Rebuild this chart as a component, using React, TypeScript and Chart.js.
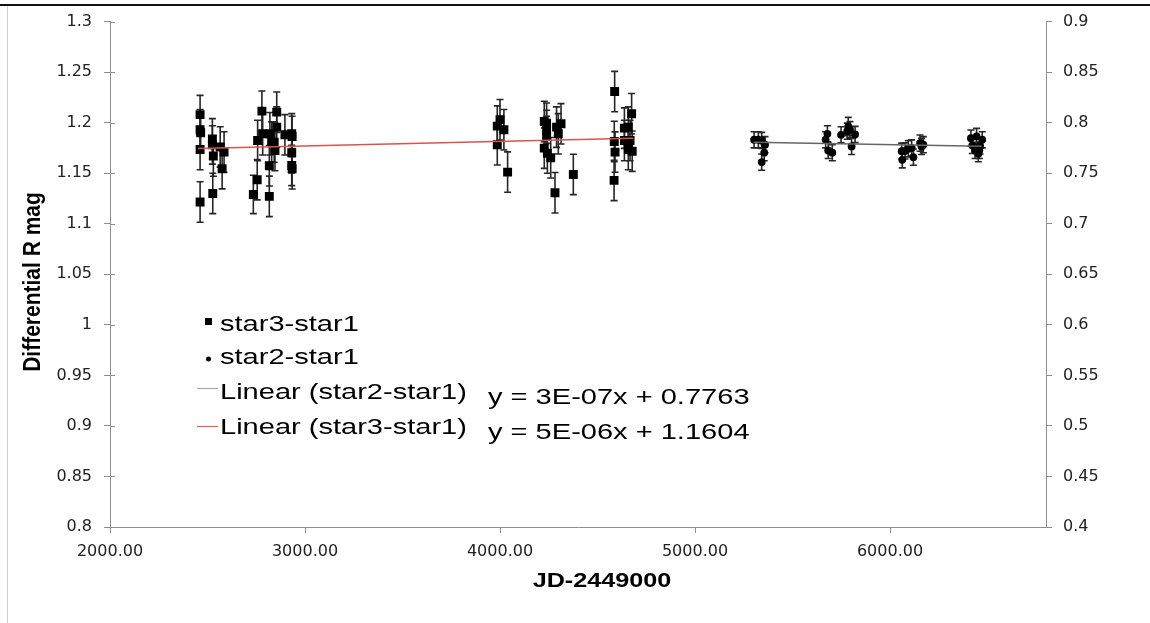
import React, { useEffect, useRef } from "react";
import { Chart, registerables } from "chart.js";

Chart.register(...registerables);

// ---- data ----
const star3Jd = [
  2462, 2462, 2465, 2462, 2462, 2525, 2525, 2530, 2527, 2565, 2585, 2575,
  2735, 2755, 2757, 2779, 2783, 2817, 2817, 2820, 2829, 2842, 2846, 2855, 2855,
  2897, 2932, 2934, 2932, 2932, 2934,
  3986, 4000, 4020, 3986, 4039,
  4227, 4239, 4239, 4239, 4227, 4243, 4260, 4290, 4299, 4313, 4282, 4376,
  4588, 4586, 4590, 4585, 4638, 4638, 4658, 4658, 4675, 4678, 4667,
];
const star3Mag = [
  1.208, 1.193, 1.19, 1.1735, 1.1215, 1.184, 1.178, 1.167, 1.13, 1.176, 1.171, 1.1545,
  1.129, 1.1436, 1.1824, 1.2114, 1.189, 1.1271, 1.1574, 1.189, 1.1808, 1.1808, 1.1725, 1.2104, 1.1956,
  1.188, 1.189, 1.1864, 1.1702, 1.1577, 1.1544,
  1.1966, 1.2029, 1.193, 1.1782, 1.1511,
  1.2012, 1.1995, 1.1923, 1.1864, 1.1748, 1.1699, 1.1653, 1.1956, 1.189, 1.1989, 1.1307, 1.1488,
  1.2308, 1.1814, 1.1709, 1.1429, 1.1946, 1.1824, 1.1956, 1.1735, 1.2088, 1.1718, 1.1824,
];
const star3Err = [
  0.019, 0.02, 0.02, 0.02, 0.02, 0.02, 0.019, 0.02, 0.02, 0.02, 0.02, 0.02,
  0.019, 0.02, 0.02, 0.02, 0.021, 0.02, 0.02, 0.021, 0.02, 0.02, 0.02, 0.02, 0.02,
  0.02, 0.02, 0.02, 0.02, 0.02, 0.02,
  0.02, 0.02, 0.02, 0.02, 0.02,
  0.02, 0.02, 0.02, 0.02, 0.02, 0.02, 0.02, 0.02, 0.02, 0.02, 0.02, 0.02,
  0.02, 0.02, 0.02, 0.02, 0.02, 0.02, 0.02, 0.02, 0.02, 0.02, 0.02,
];
const star2Jd = [
  5303, 5325, 5342, 5359, 5355, 5342,
  5679, 5670, 5683, 5704,
  5749, 5786, 5781, 5795, 5821, 5803,
  6060, 6063, 6077, 6094, 6111, 6120, 6154, 6171, 6162,
  6415, 6444, 6473, 6422, 6436, 6458, 6453, 6462,
];
const star2Mag = [
  0.7831, 0.7831, 0.7824, 0.7782, 0.7703, 0.761,
  0.789, 0.7831, 0.7725, 0.7703,
  0.788, 0.7962, 0.7916, 0.793, 0.7883, 0.7765,
  0.7718, 0.7633, 0.772, 0.7742, 0.775, 0.7659, 0.7798, 0.7782, 0.7765,
  0.7847, 0.7864, 0.7831, 0.7775, 0.7725, 0.7725, 0.7693, 0.777,
];
const star2Err = [
  0.008, 0.008, 0.008, 0.008, 0.008, 0.008,
  0.008, 0.008, 0.008, 0.008,
  0.008, 0.009, 0.008, 0.008, 0.008, 0.008,
  0.008, 0.008, 0.008, 0.008, 0.008, 0.008, 0.008, 0.008, 0.008,
  0.008, 0.008, 0.008, 0.008, 0.008, 0.008, 0.008, 0.008,
];
const trend3Jd = [2451, 4682];
const trend3Mag = [1.1745, 1.1845];
const trend2Jd = [5300, 6470];
const trend2Mag = [0.7807, 0.7768];

const xTicks = [2000, 3000, 4000, 5000, 6000];
const yLeftTicks = [0.8, 0.85, 0.9, 0.95, 1, 1.05, 1.1, 1.15, 1.2, 1.25, 1.3];
const yRightTicks = [0.4, 0.45, 0.5, 0.55, 0.6, 0.65, 0.7, 0.75, 0.8, 0.85, 0.9];

const legendLabels = ["star3-star1", "star2-star1", "Linear (star2-star1)", "Linear (star3-star1)"];
const equations = ["y = 3E-07x + 0.7763", "y = 5E-06x + 1.1604"];
const xTitle = "JD-2449000";
const yTitle = "Differential R mag";

function stretchText(ctx: CanvasRenderingContext2D, text: string, x: number, y: number, sx: number) {
  ctx.save();
  ctx.translate(x, y);
  ctx.scale(sx, 1);
  ctx.fillText(text, 0, 0);
  ctx.restore();
}

const framePlugin = {
  id: "frame",
  beforeDraw(chart: any) {
    const ctx = chart.ctx;
    ctx.save();
    ctx.fillStyle = "#ffffff";
    ctx.fillRect(0, 0, chart.width, chart.height);
    ctx.fillStyle = "#111111";
    ctx.fillRect(0, 4, chart.width, 2);
    ctx.fillStyle = "#cfcfcf";
    ctx.fillRect(7, 6, 1, chart.height - 6);
    ctx.restore();
  },
};

const errorBarPlugin = {
  id: "errorBars",
  beforeDatasetsDraw(chart: any) {
    const ctx = chart.ctx;
    const xs = chart.scales.x;
    const groups = [
      { jd: star3Jd, mag: star3Mag, err: star3Err, axis: "y" },
      { jd: star2Jd, mag: star2Mag, err: star2Err, axis: "y2" },
    ];
    ctx.save();
    ctx.strokeStyle = "#262626";
    ctx.lineWidth = 1.6;
    for (const g of groups) {
      const ys = chart.scales[g.axis];
      for (let i = 0; i < g.jd.length; i++) {
        const px = xs.getPixelForValue(g.jd[i]);
        const top = ys.getPixelForValue(g.mag[i] + g.err[i]);
        const bot = ys.getPixelForValue(g.mag[i] - g.err[i]);
        ctx.beginPath();
        ctx.moveTo(px, top);
        ctx.lineTo(px, bot);
        ctx.moveTo(px - 3.5, top);
        ctx.lineTo(px + 3.5, top);
        ctx.moveTo(px - 3.5, bot);
        ctx.lineTo(px + 3.5, bot);
        ctx.stroke();
      }
    }
    ctx.restore();
  },
};

const annotationPlugin = {
  id: "annotations",
  afterDraw(chart: any) {
    const ctx = chart.ctx;
    const area = chart.chartArea;
    ctx.save();
    // inner half of the left axis tick marks
    ctx.strokeStyle = "#8f8f8f";
    ctx.lineWidth = 1;
    const ys = chart.scales.y;
    for (const v of yLeftTicks) {
      const py = Math.round(ys.getPixelForValue(v)) + 0.5;
      ctx.beginPath();
      ctx.moveTo(area.left, py);
      ctx.lineTo(area.left + 5, py);
      ctx.stroke();
    }
    // legend
    ctx.fillStyle = "#000000";
    ctx.fillRect(205, 318, 7, 7);
    ctx.beginPath();
    ctx.arc(208.5, 359, 2.5, 0, Math.PI * 2);
    ctx.fill();
    ctx.lineWidth = 1.2;
    ctx.strokeStyle = "#a8a8a8";
    ctx.beginPath();
    ctx.moveTo(197, 388.5);
    ctx.lineTo(218, 388.5);
    ctx.stroke();
    ctx.strokeStyle = "#e06060";
    ctx.beginPath();
    ctx.moveTo(197, 426.5);
    ctx.lineTo(218, 426.5);
    ctx.stroke();

    ctx.fillStyle = "#000000";
    ctx.font = "22px 'Liberation Sans', Arial, sans-serif";
    ctx.textBaseline = "middle";
    ctx.textAlign = "left";
    const rows = [325, 358, 393, 428];
    legendLabels.forEach((t, i) => stretchText(ctx, t, 220, rows[i], 1.32));
    stretchText(ctx, equations[0], 488, 398, 1.32);
    stretchText(ctx, equations[1], 488, 433, 1.32);

    // axis titles
    ctx.font = "bold 21px 'Liberation Sans', Arial, sans-serif";
    ctx.textAlign = "center";
    stretchText(ctx, xTitle, 602, 581, 1.2);
    ctx.save();
    ctx.translate(34, 282);
    ctx.rotate(-Math.PI / 2);
    ctx.scale(1, 1.12);
    ctx.fillText(yTitle, 0, 0);
    ctx.restore();
    ctx.restore();
  },
};

const fmtY = (v: any) => String(Number(Number(v).toFixed(2)));

export default function App() {
  const ref = useRef<HTMLCanvasElement | null>(null);

  useEffect(() => {
    if (!ref.current) return;
    const tickFont = { family: "'DejaVu Sans', sans-serif", size: 16 };
    const axisGrid = { drawOnChartArea: false, drawTicks: true, tickLength: 6, color: "#8f8f8f", lineWidth: 1 };
    const chart = new Chart(ref.current, {
      type: "scatter",
      data: {
        datasets: [
          {
            type: "line",
            label: legendLabels[3],
            data: trend3Jd.map((x, i) => ({ x, y: trend3Mag[i] })),
            borderColor: "#d9534f",
            borderWidth: 1.5,
            pointRadius: 0,
            yAxisID: "y",
            order: 0,
          },
          {
            type: "line",
            label: legendLabels[2],
            data: trend2Jd.map((x, i) => ({ x, y: trend2Mag[i] })),
            borderColor: "#666666",
            borderWidth: 1.5,
            pointRadius: 0,
            yAxisID: "y2",
            order: 0,
          },
          {
            label: legendLabels[0],
            data: star3Jd.map((x, i) => ({ x, y: star3Mag[i] })),
            pointStyle: "rect",
            pointRadius: 6.3,
            backgroundColor: "#000000",
            borderColor: "#000000",
            borderWidth: 0,
            yAxisID: "y",
            order: 1,
          },
          {
            label: legendLabels[1],
            data: star2Jd.map((x, i) => ({ x, y: star2Mag[i] })),
            pointStyle: "circle",
            pointRadius: 3.9,
            backgroundColor: "#000000",
            borderColor: "#000000",
            borderWidth: 0,
            yAxisID: "y2",
            order: 1,
          },
        ],
      },
      options: {
        responsive: false,
        animation: false,
        layout: { padding: { top: 21, left: 0, right: 0, bottom: 0 } },
        plugins: { legend: { display: false }, tooltip: { enabled: false } },
        scales: {
          x: {
            type: "linear",
            min: 2000,
            max: 6800,
            afterBuildTicks: (s: any) => { s.ticks = xTicks.map((v) => ({ value: v })); },
            afterFit: (s: any) => { s.height = 96; },
            ticks: { font: tickFont, color: "#222222", padding: 9, maxRotation: 0, callback: (v: any) => Number(v).toFixed(2) },
            grid: axisGrid,
            border: { color: "#8f8f8f", width: 1 },
          },
          y: {
            type: "linear",
            position: "left",
            min: 0.8,
            max: 1.3,
            afterBuildTicks: (s: any) => { s.ticks = yLeftTicks.map((v) => ({ value: v })); },
            afterFit: (s: any) => { s.width = 110; },
            ticks: { font: tickFont, color: "#222222", padding: 12, callback: fmtY },
            grid: axisGrid,
            border: { color: "#8f8f8f", width: 1 },
          },
          y2: {
            type: "linear",
            position: "right",
            min: 0.4,
            max: 0.9,
            afterBuildTicks: (s: any) => { s.ticks = yRightTicks.map((v) => ({ value: v })); },
            afterFit: (s: any) => { s.width = 104; },
            ticks: { font: tickFont, color: "#222222", padding: 11, callback: fmtY },
            grid: axisGrid,
            border: { color: "#8f8f8f", width: 1 },
          },
        },
      } as any,
      plugins: [framePlugin, errorBarPlugin, annotationPlugin],
    } as any);
    return () => chart.destroy();
  }, []);

  return (
    <div style={{ position: "absolute", left: 0, top: 0, width: 1150, height: 623 }}>
      <canvas ref={ref} width={1150} height={623} style={{ display: "block" }} />
    </div>
  );
}
